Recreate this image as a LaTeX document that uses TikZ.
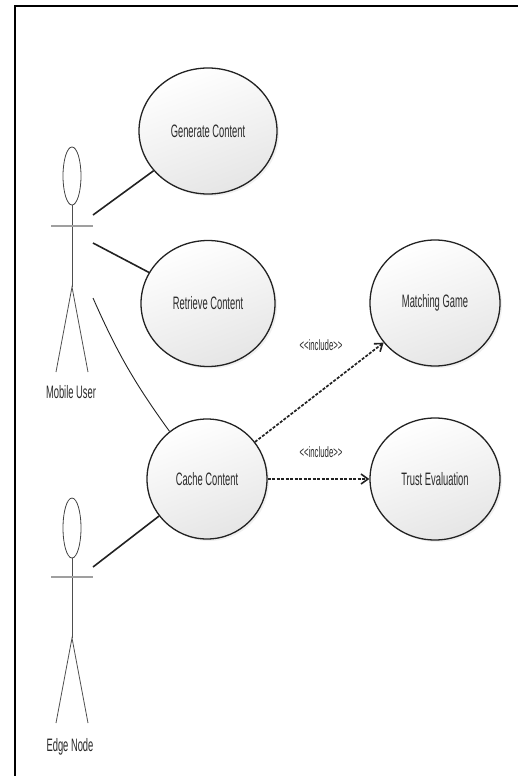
\documentclass[tikz,border=0pt]{standalone}
\usepackage{fontspec}
\setmainfont{Liberation Sans}[FakeStretch=0.52]
\usetikzlibrary{arrows.meta,shadows,shapes.geometric}
\definecolor{txt}{HTML}{2A2A2A}
\definecolor{edge}{HTML}{222222}
\tikzset{
  usecase/.style={ellipse, draw=edge, line width=1.3pt, inner sep=0pt,
    top color=white, bottom color=gray!20, shading angle=20,
    drop shadow={opacity=0.12, shadow xshift=2pt, shadow yshift=-2pt},
    font=\fontsize{18}{18}\selectfont, text=txt},
  assoc/.style={draw=edge, line width=1.6pt},
  thinassoc/.style={draw=edge, line width=0.9pt},
  incl/.style={draw=edge, line width=1.7pt, dash pattern=on 3pt off 1.5pt,
    -{Straight Barb[length=7pt,width=10pt,line width=1.6pt]}},
  incllabel/.style={font=\fontsize{15}{15}\selectfont, text=txt},
  actorlabel/.style={font=\fontsize{18}{18}\selectfont, text=txt},
  limb/.style={draw=edge!80, line width=0.8pt},
  arms/.style={draw=gray!75, line width=2.6pt},
}
\begin{document}
\begin{tikzpicture}[x=1pt,y=-1pt]
\useasboundingbox (0,0) rectangle (518,776);
% frame
\draw[line width=2.4pt, black] (518,6) -- (15,6) -- (15,776);

% use cases
\node[usecase, minimum width=138pt, minimum height=126pt] (gen) at (208,131) {Generate Content};
\node[usecase, minimum width=134pt, minimum height=126pt] (ret) at (208,303.5) {Retrieve Content};
\node[usecase, minimum width=130pt, minimum height=126pt] (match) at (435,303) {Matching Game};
\node[usecase, minimum width=120pt, minimum height=120pt] (cache) at (207,479) {Cache Content};
\node[usecase, minimum width=130pt, minimum height=122pt] (trust) at (435,479) {Trust Evaluation};

% actor: Mobile User
\node[ellipse, draw=edge!85, line width=0.8pt, minimum width=18pt, minimum height=58pt, inner sep=0pt] (muhead) at (72,176) {};
\coordinate (muhip) at (72,287);
\draw[limb] (muhead.south) -- (muhip);
\draw[arms] (51,226) -- (93,226);
\draw[limb] (56,372) -- (muhip) -- (88,372);
\node[actorlabel] (mulabel) at (71,392) {Mobile User};
\coordinate (mua) at (93,215);
\coordinate (mub) at (93,243);
\coordinate (muc) at (93,298);

% actor: Edge Node
\node[ellipse, draw=edge!85, line width=0.8pt, minimum width=18pt, minimum height=60pt, inner sep=0pt] (enhead) at (72,528) {};
\coordinate (enhip) at (72,638);
\draw[limb] (enhead.south) -- (enhip);
\draw[arms] (51,577) -- (93,577);
\draw[limb] (56,723) -- (enhip) -- (88,723);
\node[actorlabel] (enlabel) at (70,747) {Edge Node};
\coordinate (ena) at (93,567);

% associations
\draw[assoc] (mua) -- (gen);
\draw[assoc] (mub) -- (ret);
\draw[thinassoc] (muc) to[bend right=6] (cache);
\draw[assoc] (ena) -- (cache);

% includes
\draw[incl] (cache) -- (match);
\draw[incl] (cache) -- (trust);
\node[incllabel] (l1) at (321,345) {<\kern0pt<include>\kern0pt>};
\node[incllabel] (l2) at (321,452) {<\kern0pt<include>\kern0pt>};
\end{tikzpicture}
\end{document}
